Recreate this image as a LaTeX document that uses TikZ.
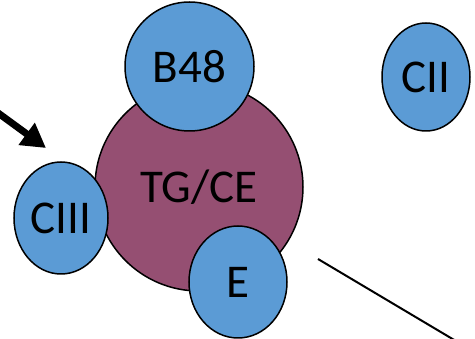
\documentclass[tikz,border=0pt]{standalone}
\usepackage{fontspec}
\setmainfont{Carlito}
\usetikzlibrary{arrows.meta,shapes.geometric}
\definecolor{cblue}{HTML}{5B9BD5}
\definecolor{cpurple}{HTML}{954F72}
\tikzset{
  blob/.style={ellipse, draw=black, line width=1.5pt, fill=cblue, inner sep=0pt, font=\fontsize{47}{47}\selectfont},
  bigblob/.style={circle, draw=black, line width=1.5pt, fill=cpurple, inner sep=0pt, minimum size=208pt, font=\fontsize{47}{47}\selectfont},
}
\begin{document}
\begin{tikzpicture}[x=1pt,y=-1pt]
\useasboundingbox (0,0) rectangle (475,339);
\clip (0,0) rectangle (475,339);
\node[bigblob] (tg) at (199,187) {TG/CE};
\node[blob, circle, minimum size=129pt] (b48) at (189.5,66.5) {B48};
\node[blob, minimum width=94pt, minimum height=112pt] (c3) at (61,218) {CIII};
\node[blob, minimum width=98pt, minimum height=112pt] (e) at (238,282) {E};
\node[blob, minimum width=88pt, minimum height=108pt] (c2) at (426,77) {CII};
\coordinate (as) at (-6,110);
\coordinate (at) at (46,148);
\draw[line width=7pt, -{Triangle[length=24pt,width=26pt]}] (as) -- (at);
\coordinate (ls) at (318,259);
\coordinate (le) at (466,347);
\draw[line width=2pt] (ls) -- (le);
\end{tikzpicture}
\end{document}
